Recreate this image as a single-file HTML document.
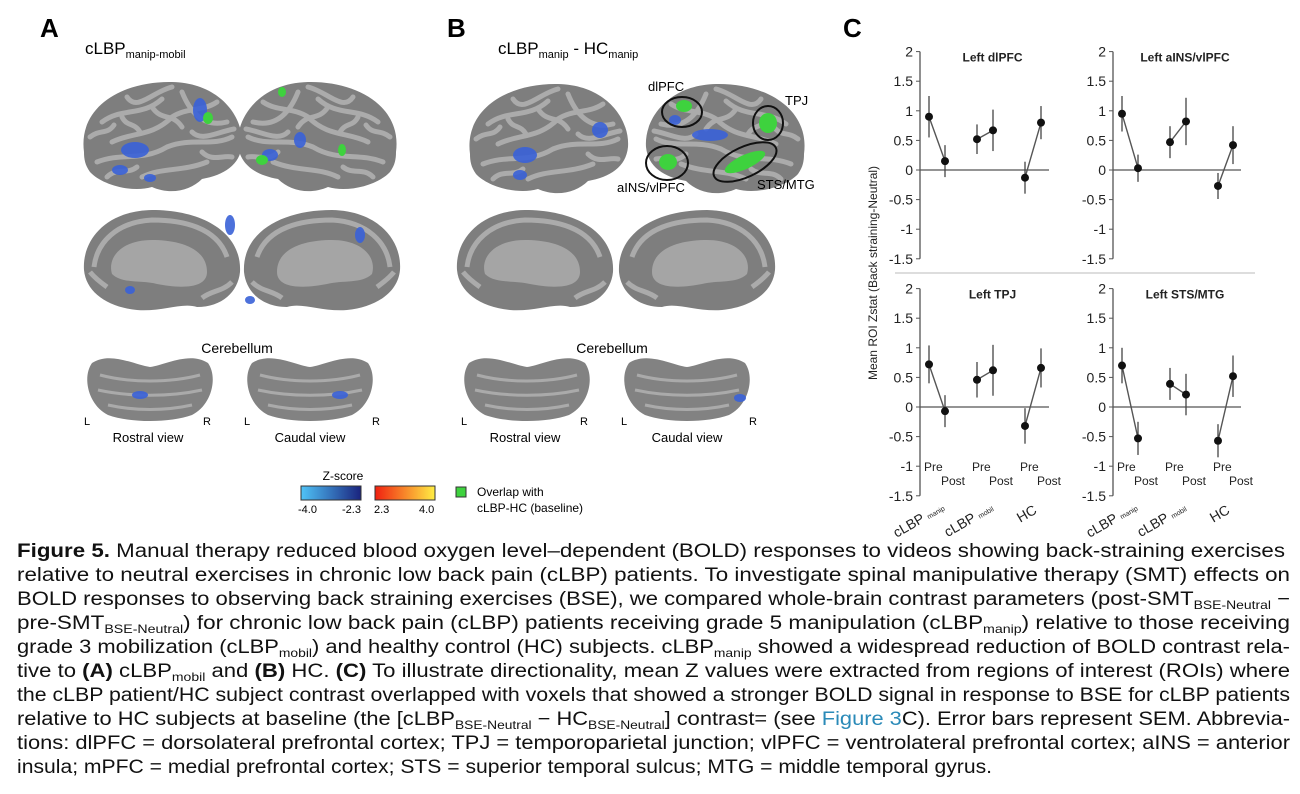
<!DOCTYPE html>
<html><head><meta charset="utf-8"><style>
html,body{margin:0;padding:0;background:#fff;}
svg{display:block;font-family:"Liberation Sans",Arial,sans-serif;}
</style></head><body>
<svg width="1300" height="794" viewBox="0 0 1300 794" xmlns="http://www.w3.org/2000/svg">
<defs>
<linearGradient id="gb" x1="0" x2="1"><stop offset="0" stop-color="#4fc3f7"/><stop offset="1" stop-color="#1a237e"/></linearGradient>
<linearGradient id="gr" x1="0" x2="1"><stop offset="0" stop-color="#f02010"/><stop offset="1" stop-color="#ffee44"/></linearGradient>
<g id="lat">
<path d="M-78,15 C-84,-30 -40,-56 10,-55 C58,-54 82,-20 80,8 C78,28 62,38 40,42 C28,54 8,58 -10,50 C-30,56 -60,48 -72,35 C-77,28 -78,22 -78,15Z" fill="#7e7e7e"/>
<g stroke="#ababab" stroke-width="5" fill="none" stroke-linecap="round">
<path d="M-60,-15 C-40,-30 -20,-20 0,-38"/><path d="M-50,5 C-30,-5 -10,0 10,-20 C25,-30 40,-25 55,-35"/>
<path d="M-65,25 C-40,15 -20,25 5,10 C30,0 50,10 70,0"/><path d="M-20,40 C0,30 20,35 45,25"/>
<path d="M20,-45 C30,-20 45,-10 65,-15"/><path d="M-35,-40 C-25,-25 -10,-45 10,-50"/>
<path d="M-72,0 C-62,-8 -55,-2 -48,-12"/><path d="M30,-5 C40,5 55,-5 72,-8"/><path d="M-55,40 C-45,30 -35,38 -25,30"/>
<path d="M-10,-30 C0,-15 10,-25 20,-10"/><path d="M40,15 C50,25 60,18 70,20"/><path d="M-40,-20 C-35,-10 -28,-15 -22,-5"/>
</g></g>
<g id="med">
<path d="M-78,10 C-80,-30 -40,-52 10,-52 C58,-51 80,-20 78,8 C76,30 55,45 25,48 C0,50 -20,40 -35,45 C-60,45 -76,30 -78,10Z" fill="#7e7e7e"/>
<path d="M-45,10 C-45,-15 -15,-22 10,-22 C40,-22 55,-5 50,12 C40,22 20,18 5,22 C-15,26 -45,28 -45,10Z" fill="#a5a5a5"/>
<g stroke="#ababab" stroke-width="5" fill="none"><path d="M-65,-5 C-55,-35 -20,-42 10,-42 C45,-40 65,-20 68,5"/><path d="M-70,20 C-60,30 -50,28 -40,36"/><path d="M55,25 C62,20 68,15 72,10"/></g>
</g>
<g id="cer">
<path d="M-58,-22 C-40,-34 -15,-20 0,-18 C15,-20 40,-34 58,-22 C68,-8 62,20 42,30 C20,38 -20,38 -42,30 C-62,20 -68,-8 -58,-22Z" fill="#828282"/>
<g stroke="#aaaaaa" stroke-width="3" fill="none"><path d="M-50,-10 C-20,-2 20,-2 50,-10"/><path d="M-52,5 C-20,12 20,12 52,5"/><path d="M-42,20 C-15,26 15,26 42,20"/></g>
</g>
</defs>

<text x="40" y="37" font-size="26" font-weight="bold">A</text>
<text x="447" y="37" font-size="26" font-weight="bold">B</text>
<text x="843" y="37" font-size="26" font-weight="bold">C</text>
<text x="85" y="54" font-size="17">cLBP<tspan font-size="11" dy="4">manip-mobil</tspan></text>
<text x="498" y="54" font-size="17">cLBP<tspan font-size="11" dy="4">manip</tspan><tspan dy="-4"> - HC</tspan><tspan font-size="11" dy="4">manip</tspan></text>

<use href="#lat" transform="translate(162,137)"/>
<use href="#lat" transform="translate(318,137) scale(-1,1)"/>
<use href="#med" transform="translate(162,262) scale(-1,1)"/>
<use href="#med" transform="translate(322,262)"/>
<use href="#cer" transform="translate(150,385)"/>
<use href="#cer" transform="translate(310,385)"/>
<g fill="#3a62d8" opacity="0.9">
<ellipse cx="135" cy="150" rx="14" ry="8"/><ellipse cx="200" cy="110" rx="7" ry="12"/><ellipse cx="120" cy="170" rx="8" ry="5"/><ellipse cx="150" cy="178" rx="6" ry="4"/>
<ellipse cx="270" cy="155" rx="8" ry="6"/><ellipse cx="300" cy="140" rx="6" ry="8"/><ellipse cx="230" cy="225" rx="5" ry="10"/><ellipse cx="360" cy="235" rx="5" ry="8"/>
<ellipse cx="130" cy="290" rx="5" ry="4"/><ellipse cx="250" cy="300" rx="5" ry="4"/><ellipse cx="140" cy="395" rx="8" ry="4"/><ellipse cx="340" cy="395" rx="8" ry="4"/>
</g>
<g fill="#3ed23e"><ellipse cx="208" cy="118" rx="5" ry="6"/><ellipse cx="262" cy="160" rx="6" ry="5"/><ellipse cx="342" cy="150" rx="4" ry="6"/><ellipse cx="282" cy="92" rx="4" ry="5"/></g>
<text x="237" y="353" font-size="14" text-anchor="middle">Cerebellum</text>
<text x="84" y="425" font-size="11">L</text><text x="203" y="425" font-size="11">R</text>
<text x="244" y="425" font-size="11">L</text><text x="372" y="425" font-size="11">R</text>
<text x="148" y="442" font-size="13" text-anchor="middle">Rostral view</text>
<text x="310" y="442" font-size="13" text-anchor="middle">Caudal view</text>

<use href="#lat" transform="translate(548,139)"/>
<use href="#lat" transform="translate(726,139) scale(-1,1)"/>
<use href="#med" transform="translate(535,262) scale(-1,1)"/>
<use href="#med" transform="translate(697,262)"/>
<use href="#cer" transform="translate(527,385)"/>
<use href="#cer" transform="translate(687,385)"/>
<g fill="#3a62d8" opacity="0.9">
<ellipse cx="525" cy="155" rx="12" ry="8"/><ellipse cx="600" cy="130" rx="8" ry="8"/><ellipse cx="520" cy="175" rx="7" ry="5"/>
<ellipse cx="710" cy="135" rx="18" ry="6"/><ellipse cx="675" cy="120" rx="6" ry="5"/><ellipse cx="740" cy="398" rx="6" ry="4"/>
</g>
<g fill="#3ed23e"><ellipse cx="684" cy="106" rx="8" ry="6"/><ellipse cx="768" cy="123" rx="9" ry="10"/><ellipse cx="745" cy="162" rx="22" ry="7" transform="rotate(-25 745 162)"/><ellipse cx="668" cy="162" rx="9" ry="8"/></g>
<g fill="none" stroke="#111" stroke-width="2">
<ellipse cx="682" cy="112" rx="20" ry="15"/><ellipse cx="768" cy="123" rx="15" ry="17"/><ellipse cx="667" cy="163" rx="21" ry="17"/><ellipse cx="745" cy="162" rx="34" ry="15" transform="rotate(-25 745 162)"/>
</g>
<text x="648" y="91" font-size="13">dlPFC</text>
<text x="785" y="105" font-size="13">TPJ</text>
<text x="617" y="192" font-size="13">aINS/vlPFC</text>
<text x="757" y="189" font-size="13">STS/MTG</text>
<text x="612" y="353" font-size="14" text-anchor="middle">Cerebellum</text>
<text x="461" y="425" font-size="11">L</text><text x="580" y="425" font-size="11">R</text>
<text x="621" y="425" font-size="11">L</text><text x="749" y="425" font-size="11">R</text>
<text x="525" y="442" font-size="13" text-anchor="middle">Rostral view</text>
<text x="687" y="442" font-size="13" text-anchor="middle">Caudal view</text>

<text x="343" y="480" font-size="12" text-anchor="middle">Z-score</text>
<rect x="301" y="486" width="60" height="14" fill="url(#gb)" stroke="#333"/>
<rect x="375" y="486" width="60" height="14" fill="url(#gr)" stroke="#333"/>
<text x="298" y="513" font-size="11">-4.0</text><text x="342" y="513" font-size="11">-2.3</text>
<text x="374" y="513" font-size="11">2.3</text><text x="419" y="513" font-size="11">4.0</text>
<rect x="456" y="487" width="10" height="10" fill="#3ed23e" stroke="#333"/>
<text x="477" y="496" font-size="12">Overlap with</text>
<text x="477" y="512" font-size="12">cLBP-HC (baseline)</text>

<line x1="895" y1="273" x2="1255" y2="273" stroke="#bbb"/>
<text transform="translate(877,273) rotate(-90)" font-size="12" text-anchor="middle" fill="#222">Mean ROI Zstat (Back straining-Neutral)</text>
<g id="charts" font-size="13" fill="#222"></g>
<script>
(function(){
var ns="http://www.w3.org/2000/svg",g=document.getElementById('charts');
function el(t,a,txt){var e=document.createElementNS(ns,t);for(var k in a)e.setAttribute(k,a[k]);if(txt!=null)e.textContent=txt;g.appendChild(e);return e;}
var panels=[
{ax:920,z:170,xs:[929,945,977,993,1025,1041],end:1049,t:"Left dlPFC",v:[[.9,.35],[.15,.27],[.52,.25],[.67,.35],[-.13,.27],[.8,.28]],pp:false},
{ax:1113,z:170,xs:[1122,1138,1170,1186,1218,1233],end:1241,t:"Left aINS/vlPFC",v:[[.95,.3],[.03,.23],[.47,.27],[.82,.4],[-.27,.22],[.42,.32]],pp:false},
{ax:920,z:407,xs:[929,945,977,993,1025,1041],end:1049,t:"Left TPJ",v:[[.72,.32],[-.07,.27],[.46,.3],[.62,.43],[-.32,.3],[.66,.33]],pp:true},
{ax:1113,z:407,xs:[1122,1138,1170,1186,1218,1233],end:1241,t:"Left STS/MTG",v:[[.7,.3],[-.53,.28],[.39,.27],[.21,.35],[-.57,.28],[.52,.35]],pp:true}];
var u=59.2;
panels.forEach(function(p){
 var top=p.z-2*u,bot=p.z+1.5*u;
 el('line',{x1:p.ax,y1:top,x2:p.ax,y2:bot,stroke:'#555','stroke-width':1.3});
 for(var i=0;i<8;i++){var val=2-i*.5,y=p.z-val*u;el('line',{x1:p.ax-4,y1:y,x2:p.ax,y2:y,stroke:'#555'});
  el('text',{x:p.ax-7,y:y+5,'text-anchor':'end','font-size':14},String(val));}
 el('line',{x1:p.ax,y1:p.z,x2:p.end,y2:p.z,stroke:'#555','stroke-width':1.3});
 el('text',{x:(p.ax+p.end)/2+8,y:top+10,'text-anchor':'middle','font-weight':'bold','font-size':12},p.t);
 for(var k=0;k<3;k++){var a=p.v[2*k],b=p.v[2*k+1];
  el('line',{x1:p.xs[2*k],y1:p.z-a[0]*u,x2:p.xs[2*k+1],y2:p.z-b[0]*u,stroke:'#555','stroke-width':1.4});}
 p.v.forEach(function(d,i){var x=p.xs[i];
  el('line',{x1:x,y1:p.z-(d[0]+d[1])*u,x2:x,y2:p.z-(d[0]-d[1])*u,stroke:'#444','stroke-width':1.3});
  el('circle',{cx:x,cy:p.z-d[0]*u,r:4,fill:'#111'});});
 if(p.pp){
  var py=p.z+1.08*u;
  for(var k=0;k<3;k++){el('text',{x:p.xs[2*k]-5,y:py,'font-size':12},'Pre');el('text',{x:p.xs[2*k+1]-4,y:py+14,'font-size':12},'Post');}
  var lx=[p.xs[0]-8,p.xs[2]-6,p.xs[4]];
  var t1=el('text',{transform:'translate('+lx[0]+','+(bot+28)+') rotate(-30)','font-size':14,'text-anchor':'middle'},'cLBP ');
  var s=document.createElementNS(ns,'tspan');s.setAttribute('font-size','7');s.textContent='manip';t1.appendChild(s);
  var t2=el('text',{transform:'translate('+lx[1]+','+(bot+28)+') rotate(-30)','font-size':14,'text-anchor':'middle'},'cLBP ');
  var s2=document.createElementNS(ns,'tspan');s2.setAttribute('font-size','7');s2.textContent='mobil';t2.appendChild(s2);
  el('text',{transform:'translate('+(lx[2]+4)+','+(bot+22)+') rotate(-30)','font-size':14,'text-anchor':'middle'},'HC');
 }
});
})();
</script>

<g font-size="19" fill="#111">
<text x="17" y="557" textLength="1268" lengthAdjust="spacingAndGlyphs"><tspan font-weight="bold">Figure 5.</tspan> Manual therapy reduced blood oxygen level–dependent (BOLD) responses to videos showing back-straining exercises</text>
<text x="17" y="581" textLength="1273" lengthAdjust="spacingAndGlyphs">relative to neutral exercises in chronic low back pain (cLBP) patients. To investigate spinal manipulative therapy (SMT) effects on</text>
<text x="17" y="605" textLength="1273" lengthAdjust="spacingAndGlyphs">BOLD responses to observing back straining exercises (BSE), we compared whole-brain contrast parameters (post-SMT<tspan font-size="12" dy="4">BSE-Neutral</tspan><tspan dy="-4"> −</tspan></text>
<text x="17" y="629" textLength="1273" lengthAdjust="spacingAndGlyphs">pre-SMT<tspan font-size="12" dy="4">BSE-Neutral</tspan><tspan dy="-4">) for chronic low back pain (cLBP) patients receiving grade 5 manipulation (cLBP</tspan><tspan font-size="12" dy="4">manip</tspan><tspan dy="-4">) relative to those receiving</tspan></text>
<text x="17" y="653" textLength="1273" lengthAdjust="spacingAndGlyphs">grade 3 mobilization (cLBP<tspan font-size="12" dy="4">mobil</tspan><tspan dy="-4">) and healthy control (HC) subjects. cLBP</tspan><tspan font-size="12" dy="4">manip</tspan><tspan dy="-4"> showed a widespread reduction of BOLD contrast rela-</tspan></text>
<text x="17" y="677" textLength="1273" lengthAdjust="spacingAndGlyphs">tive to <tspan font-weight="bold">(A)</tspan> cLBP<tspan font-size="12" dy="4">mobil</tspan><tspan dy="-4"> and </tspan><tspan font-weight="bold">(B)</tspan> HC. <tspan font-weight="bold">(C)</tspan> To illustrate directionality, mean Z values were extracted from regions of interest (ROIs) where</text>
<text x="17" y="701" textLength="1273" lengthAdjust="spacingAndGlyphs">the cLBP patient/HC subject contrast overlapped with voxels that showed a stronger BOLD signal in response to BSE for cLBP patients</text>
<text x="17" y="725" textLength="1273" lengthAdjust="spacingAndGlyphs">relative to HC subjects at baseline (the [cLBP<tspan font-size="12" dy="4">BSE-Neutral</tspan><tspan dy="-4"> − HC</tspan><tspan font-size="12" dy="4">BSE-Neutral</tspan><tspan dy="-4">] contrast= (see </tspan><tspan fill="#2a8ab8">Figure 3</tspan>C). Error bars represent SEM. Abbrevia-</text>
<text x="17" y="749" textLength="1273" lengthAdjust="spacingAndGlyphs">tions: dlPFC = dorsolateral prefrontal cortex; TPJ = temporoparietal junction; vlPFC = ventrolateral prefrontal cortex; aINS = anterior</text>
<text x="17" y="773" textLength="975" lengthAdjust="spacingAndGlyphs">insula; mPFC = medial prefrontal cortex; STS = superior temporal sulcus; MTG = middle temporal gyrus.</text>
</g>
</svg>
</body></html>
